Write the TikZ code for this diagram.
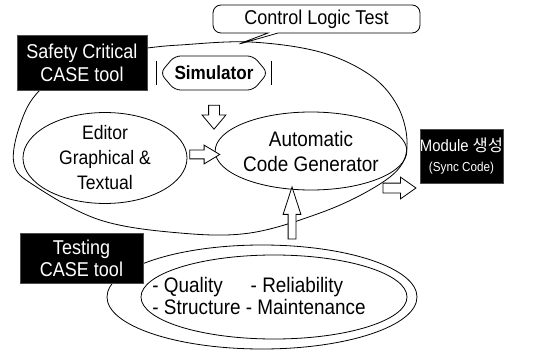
\documentclass[tikz,border=0pt]{standalone}
\usepackage{fontspec}
\setmainfont{Liberation Sans}[FakeStretch=0.9]
\newfontfamily\krfont{Noto Sans CJK KR}
\usepackage{tikz}
\usetikzlibrary{positioning,calc,shapes.geometric,shapes.symbols,shapes.arrows,shapes.callouts}
\tikzset{
    fs/.style 2 args={font=\fontsize{#1}{#2}\selectfont},
    blackbox/.style={rectangle,fill=black,draw=black!70,text=white,align=center,inner sep=0pt},
    oval/.style={ellipse,draw,inner sep=0pt,align=center},
    blockarrow/.style 2 args={single arrow,draw,fill=white,inner sep=#1,single arrow head extend=#2},
    bubble/.style={rectangle callout,draw,fill=white,rounded corners=8pt,inner sep=0pt},
}

\begin{document}
\begin{tikzpicture}[x=1pt,y=1pt,line width=0.8pt]
    \useasboundingbox (0,0) rectangle (540,351);
    \draw plot[smooth cycle,tension=0.6] coordinates {(147,303) (180,306) (250,309) (320,299) (370,276) (397,246) (407,211) (400,184) (370,161) (320,138) (250,118) (180,118) (100,131) (35,165) (14,187) (20,226) (40,261) (90,296)};
    \node[oval,minimum width=310pt,minimum height=104pt] (testouter) at (262,54) {};
    \node[oval,minimum width=266pt,minimum height=84pt] (testinner) at (274,54) {};
    \node[fs={21}{22},align=left] (metrics) at (259,55) {- Quality\hspace{28pt}- Reliability\\- Structure - Maintenance};
    \node[blackbox,fs={20}{23},minimum width=130pt,minimum height=55pt] (safety) at (82,288.5) {Safety Critical\\CASE tool};
    \node[blackbox,fs={20}{22},minimum width=123pt,minimum height=50pt] (testing) at (81.5,93) {Testing\\CASE tool};
    \node[bubble,minimum width=207pt,minimum height=28pt,callout absolute pointer={(236,306)},callout pointer width=10pt,fs={20}{24}] (logic) at (316.5,332) {Control Logic Test};
    \node[signal,signal to=west and east,signal pointer angle=100,draw,rounded corners=6pt,minimum width=106pt,minimum height=34pt,inner sep=0pt,font=\bfseries\fontsize{19}{21}\selectfont] (sim) at (214,278) {Simulator};
    \draw ([xshift=-3pt]sim.west) ++(0,12) -- ++(0,-24);
    \draw ([xshift=3pt]sim.east) ++(0,12) -- ++(0,-24);
    \node[oval,minimum width=164pt,minimum height=87pt,fs={19.5}{25}] (editor) at (105,193) {Editor\\Graphical \&\\Textual};
    \node[oval,minimum width=168pt,minimum height=78pt,fs={21}{25}] (acg) at (311,200) {Automatic\\Code Generator};
    \node[blackbox,minimum width=83pt,minimum height=54pt,fs={16.5}{20}] (module) at (461.5,195) {Module {\krfont 생성}\\{\fontsize{13}{15}\selectfont (Sync Code)}};
    \node[blockarrow={5pt}{6.5pt},single arrow tip angle=80,shape border rotate=270,minimum height=24pt] (simarrow) at (214,237) {};
    \node[blockarrow={4pt}{5pt},single arrow tip angle=62,minimum height=30pt] (editarrow) at ($(editor.east)!0.5!(acg.west)$) {};
    \node[blockarrow={4.5pt}{6pt},single arrow tip angle=70,minimum height=33pt] (modarrow) at (396,163) {};
    \node[blockarrow={3.5pt}{5pt},single arrow tip angle=36,shape border rotate=90,minimum height=52pt] (testarrow) at (292,132) {};
\end{tikzpicture}
\end{document}
